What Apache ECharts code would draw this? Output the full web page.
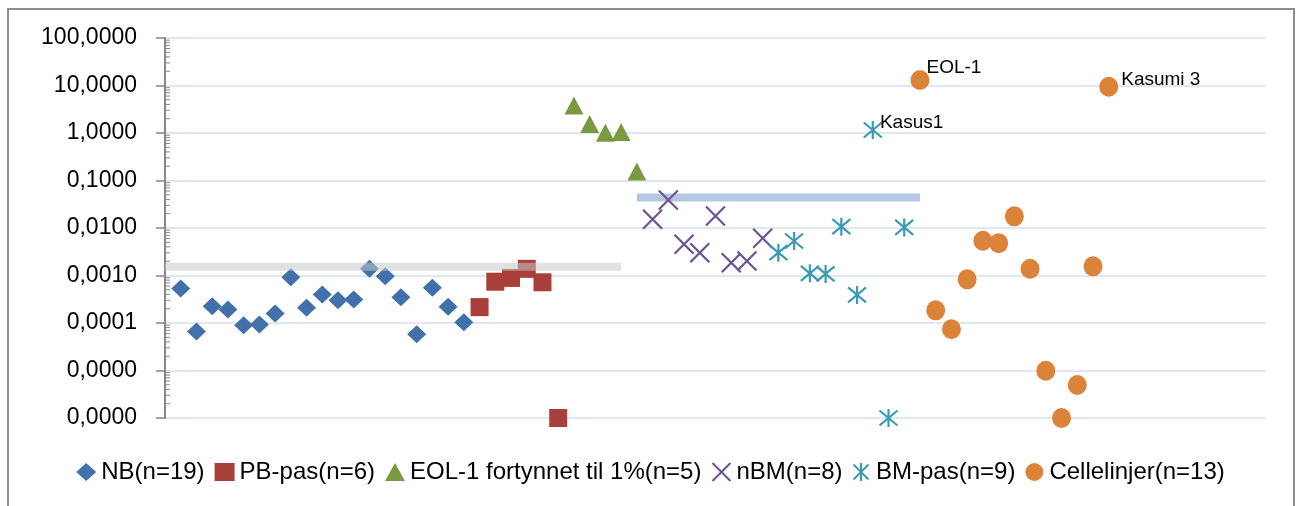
<!DOCTYPE html>
<html>
<head>
<meta charset="utf-8">
<script src="https://cdn.jsdelivr.net/npm/echarts@6/dist/echarts.min.js"></script>
<style>
  html, body { margin: 0; padding: 0; background: #fff; }
  #chart { width: 1301px; height: 506px; }
</style>
</head>
<body>
<div id="chart"></div>
<script>
// ---- data ----
const seriesNames = ['NB(n=19)', 'PB-pas(n=6)', 'EOL-1 fortynnet til 1%(n=5)', 'nBM(n=8)', 'BM-pas(n=9)', 'Cellelinjer(n=13)'];
const nbValues = [0.00053, 0.000066, 0.000226, 0.000193, 0.00009, 0.0000935, 0.000159, 0.00092, 0.00021, 0.0004, 0.0003, 0.000313, 0.00138, 0.00097, 0.00035, 0.000058, 0.00055, 0.00022, 0.000104];
const pbValues = [0.000216, 0.00074, 0.00089, 0.00138, 0.00072, 0.000001];
const eolValues = [3.78, 1.54, 1.01, 1.05, 0.155];
const nbmValues = [0.0153, 0.0388, 0.00454, 0.00302, 0.0179, 0.00186, 0.00202, 0.00607];
const bmValues = [0.00302, 0.00532, 0.00111, 0.00108, 0.01066, 0.00039, 1.156, 0.000001, 0.0103];
const cellValues = [13.06, 0.000185, 0.000074, 0.00083, 0.0054, 0.0048, 0.0176, 0.00139, 0.0000099, 0.000001, 0.00000495, 0.00156, 9.4];
const pointLabels = { 'BM-pas(n=9)': { 6: 'Kasus1' }, 'Cellelinjer(n=13)': { 0: 'EOL-1', 12: 'Kasumi 3' } };
const greyLevel = { value: 0.00152, from: 0, to: 29 };
const blueLevel = { value: 0.0441, from: 30, to: 48 };

// ---- build ----
const groups = [nbValues, pbValues, eolValues, nbmValues, bmValues, cellValues];
const colors = ['#4170aa', '#a83f3b', '#7a9a41', '#6c5391', '#3a9cb4', '#dc833a'];
const symbols = ['diamond', 'rect', 'triangle',
  'path://M0,0L10,10M10,0L0,10',
  'path://M0,0L10,10M10,0L0,10M5,-1L5,11',
  'circle'];
const sizes = [[19, 18], [18, 18], [19, 18], [19, 19], [18, 18], [19, 20]];
const labelOffsets = { 'EOL-1': [-3, -12], 'Kasumi 3': [3, -7], 'Kasus1': [-3, -7] };

let idx = 0;
const scatterSeries = groups.map((vals, g) => {
  const name = seriesNames[g];
  const line = g === 3 || g === 4;
  const data = vals.map((v, i) => {
    idx += 1;
    const item = { value: [idx, v] };
    const lab = pointLabels[name] && pointLabels[name][i];
    if (lab) {
      item.label = {
        show: true, formatter: lab, position: 'right', distance: 0,
        offset: labelOffsets[lab], color: '#000',
        fontFamily: 'Liberation Sans', fontSize: 19
      };
    }
    return item;
  });
  return {
    name: name,
    type: 'scatter',
    symbol: symbols[g],
    symbolSize: sizes[g],
    z: 3,
    itemStyle: line
      ? { color: 'rgba(0,0,0,0)', borderColor: colors[g], borderWidth: 2.2, opacity: 1 }
      : { color: colors[g], opacity: 1 },
    emphasis: { disabled: true },
    data: data
  };
});

// minor log ticks (axis decoration)
const minorTicks = [];
for (let e = -6; e < 2; e++) {
  for (let m = 2; m <= 9; m++) minorTicks.push([0, m * Math.pow(10, e)]);
}

const chart = echarts.init(document.getElementById('chart'), null, { renderer: 'canvas' });
chart.setOption({
  backgroundColor: '#fff',
  animation: false,
  graphic: [{
    type: 'rect', z: -10,
    shape: { x: 8, y: 9, width: 1286, height: 600 },
    style: { fill: 'none', stroke: '#8e8e8e', lineWidth: 2 }
  }],
  grid: { left: 165, right: 35, top: 38, bottom: 88 },
  xAxis: {
    type: 'value', min: 0, max: 70,
    show: false, splitLine: { show: false }
  },
  yAxis: {
    type: 'log', logBase: 10, min: 0.000001, max: 100, interval: 1, splitNumber: 8,
    axisLine: { show: true, lineStyle: { color: '#868686', width: 2 } },
    axisTick: { show: true, inside: false, length: 9, lineStyle: { color: '#868686', width: 1.5 } },
    axisLabel: {
      margin: 28, color: '#000', fontFamily: 'Liberation Sans', fontSize: 23,
      formatter: v => Number(v).toFixed(4).replace('.', ',')
    },
    splitLine: { show: true, lineStyle: { color: '#dfe7f2', width: 2 } }
  },
  legend: {
    data: seriesNames,
    left: 'center', top: 454,
    itemWidth: 20, itemHeight: 18, itemGap: 10,
    textStyle: { color: '#000', fontFamily: 'Liberation Sans', fontSize: 24, lineHeight: 26 },
    selectedMode: false
  },
  series: [
    ...scatterSeries,
    {
      name: 'greyLevel', type: 'line', z: 4, silent: true, symbol: 'none',
      lineStyle: { color: 'rgba(200,200,200,0.55)', width: 8, cap: 'butt' },
      data: [[greyLevel.from, greyLevel.value], [greyLevel.to, greyLevel.value]]
    },
    {
      name: 'blueLevel', type: 'line', z: 2, silent: true, symbol: 'none',
      lineStyle: { color: '#b4c8e3', width: 8, cap: 'butt' },
      data: [[blueLevel.from, blueLevel.value], [blueLevel.to, blueLevel.value]]
    },
    {
      name: 'minorTicks', type: 'custom', silent: true, z: 5,
      data: minorTicks,
      renderItem: (params, api) => {
        const p = api.coord([api.value(0), api.value(1)]);
        return {
          type: 'line',
          shape: { x1: p[0], y1: p[1], x2: p[0] + 5, y2: p[1] },
          style: { stroke: '#868686', lineWidth: 1 }
        };
      }
    }
  ]
});
</script>
</body>
</html>
